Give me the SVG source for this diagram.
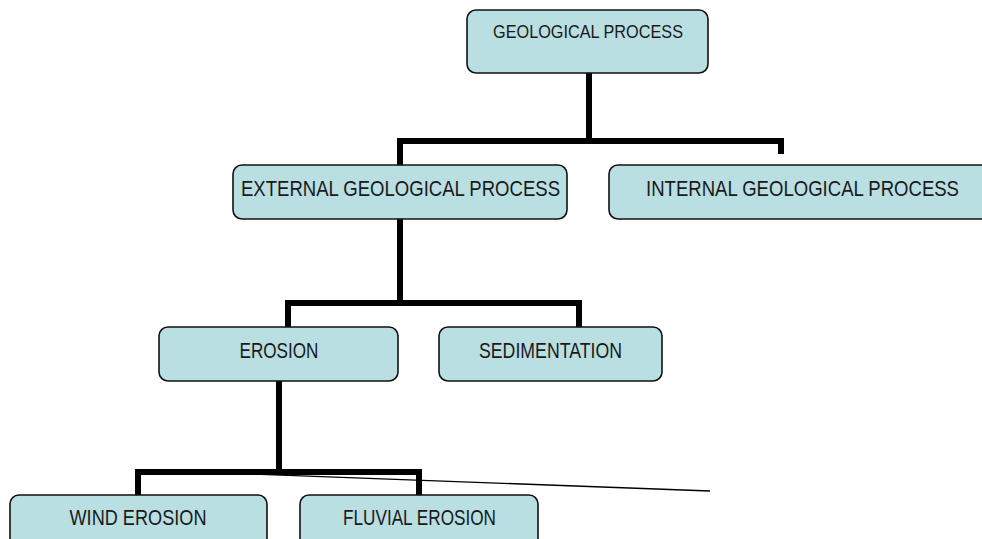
<svg xmlns="http://www.w3.org/2000/svg" width="982" height="539" viewBox="0 0 982 539">
<style>
.box{fill:#b9dfe2;stroke:#111;stroke-width:1.6}
.lbl{font-family:"Liberation Sans Narrow","Liberation Sans",Arial,sans-serif;font-size:22px;fill:#1a1a1a;text-anchor:middle}
.conn{fill:none;stroke:#000;stroke-width:6;stroke-linejoin:miter;stroke-linecap:butt}
</style>
<rect width="982" height="539" fill="#fff"/>
<g id="connectors">
<path class="conn" d="M589 73 V141 M400 165 V141 H781 V154"/>
<path class="conn" d="M400 219 V303 M288 327 V303 H579 V327"/>
<path class="conn" d="M279 381 V472 M138 495 V472 H419 V495"/>
<line x1="252" y1="474" x2="710" y2="491" stroke="#000" stroke-width="1.3"/>
</g>
<g id="geological-process">
<rect class="box" x="467" y="10" width="241" height="63" rx="9"/>
<text class="lbl" x="588" y="38" style="font-size:19px" textLength="190" lengthAdjust="spacingAndGlyphs">GEOLOGICAL PROCESS</text>
</g>
<g id="external">
<rect class="box" x="233" y="165" width="334" height="54" rx="9"/>
<text class="lbl" x="400.5" y="196" textLength="319" lengthAdjust="spacingAndGlyphs">EXTERNAL GEOLOGICAL PROCESS</text>
</g>
<g id="internal">
<path class="box" d="M982 165 H618 A9 9 0 0 0 609 174 V210 A9 9 0 0 0 618 219 H982"/>
<text class="lbl" x="802.5" y="196" textLength="313" lengthAdjust="spacingAndGlyphs">INTERNAL GEOLOGICAL PROCESS</text>
</g>
<g id="erosion">
<rect class="box" x="159" y="327" width="239" height="54" rx="9"/>
<text class="lbl" x="279" y="358" textLength="79" lengthAdjust="spacingAndGlyphs">EROSION</text>
</g>
<g id="sedimentation">
<rect class="box" x="439" y="327" width="223" height="54" rx="9"/>
<text class="lbl" x="550.5" y="358" textLength="143" lengthAdjust="spacingAndGlyphs">SEDIMENTATION</text>
</g>
<g id="wind-erosion">
<path class="box" d="M10 539 V504 A9 9 0 0 1 19 495 H258 A9 9 0 0 1 267 504 V539"/>
<text class="lbl" x="138" y="525" textLength="137" lengthAdjust="spacingAndGlyphs">WIND EROSION</text>
</g>
<g id="fluvial-erosion">
<path class="box" d="M300 539 V504 A9 9 0 0 1 309 495 H529 A9 9 0 0 1 538 504 V539"/>
<text class="lbl" x="419.5" y="525" textLength="153" lengthAdjust="spacingAndGlyphs">FLUVIAL EROSION</text>
</g>
</svg>
